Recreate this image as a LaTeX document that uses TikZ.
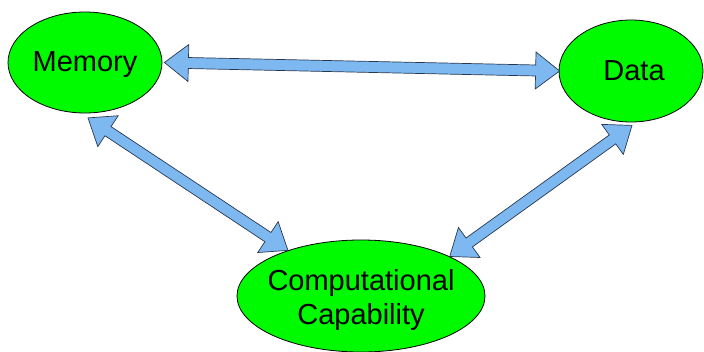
\documentclass[tikz,border=0pt]{standalone}
\usepackage{fontspec}
\setmainfont{Liberation Sans}
\usetikzlibrary{shapes.geometric,calc}
\definecolor{blobgreen}{RGB}{0,250,0}
\definecolor{arrfill}{RGB}{125,185,240}
\definecolor{arredge}{RGB}{40,55,80}
\def\hw{5.5pt}
\def\hh{18.5pt}
\def\hl{24pt}
\newcommand{\dblarr}[2]{%
  \draw[arr] (#1)
    -- ($(#1)!\hl!(#2)!\hh!90:(#2)$)
    -- ($(#1)!\hl!(#2)!\hw!90:(#2)$)
    -- ($(#2)!\hl!(#1)!\hw!-90:(#1)$)
    -- ($(#2)!\hl!(#1)!\hh!-90:(#1)$)
    -- (#2)
    -- ($(#2)!\hl!(#1)!\hh!90:(#1)$)
    -- ($(#2)!\hl!(#1)!\hw!90:(#1)$)
    -- ($(#1)!\hl!(#2)!\hw!-90:(#2)$)
    -- ($(#1)!\hl!(#2)!\hh!-90:(#2)$)
    -- cycle;}
\begin{document}
\begin{tikzpicture}[x=1pt,y=-1pt,
  blob/.style={ellipse,draw=black,fill=blobgreen,line width=0.8pt,inner sep=0pt},
  lbl/.style={font=\fontsize{29}{34}\selectfont,align=center,inner sep=0pt},
  arr/.style={fill=arrfill,draw=arredge,line width=0.7pt,line join=miter}]
\useasboundingbox (0,0) rectangle (704,351);
\node[blob,minimum width=154pt,minimum height=101pt] (mem) at (85,62.5) {};
\node[lbl] (memt) at ([yshift=-2.5pt]mem.center) {Memory};
\node[blob,minimum width=144pt,minimum height=102pt] (data) at (631,71) {};
\node[lbl] (datat) at ([xshift=3pt]data.center) {Data};
\node[blob,minimum width=248pt,minimum height=112pt] (comp) at (361,296) {};
\node[lbl] (compt) at ([yshift=-4pt]comp.center) {Computational\\Capability};
\coordinate (m1) at ([xshift=2pt]mem.east);
\coordinate (d1) at ([xshift=1pt]data.west);
\coordinate (m2) at ($(mem.south)+(3,4.5)$);
\coordinate (c1) at (comp.148);
\coordinate (d2) at ($(data.south)+(1,3)$);
\coordinate (c2) at (comp.24);
\dblarr{m1}{d1}
\dblarr{m2}{c1}
\dblarr{d2}{c2}
\end{tikzpicture}
\end{document}
